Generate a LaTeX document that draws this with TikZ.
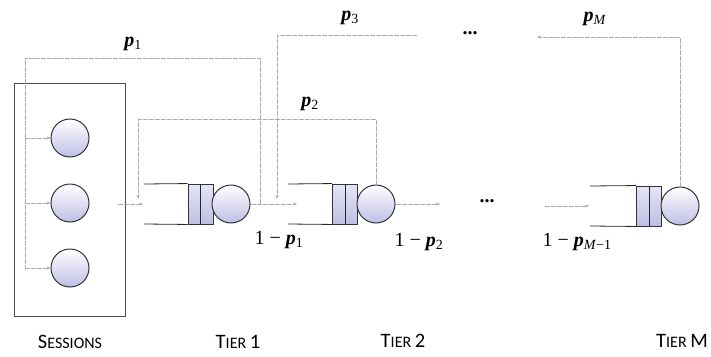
\documentclass[tikz,border=0pt]{standalone}
\usepackage{fontspec}
\setmainfont{Liberation Serif}
\newfontfamily\labfont{Carlito}
\newfontfamily\pfont{Liberation Serif Bold Italic}
\usetikzlibrary{arrows.meta}
\definecolor{lav}{RGB}{190,190,230}
\definecolor{fb}{RGB}{170,170,180}
\newcommand{\pvar}[1]{{\pfont p}\textsubscript{#1}}
\newcommand{\capl}[2]{{\labfont\fontsize{20.5}{20.5}\selectfont #1\fontsize{16}{16}\selectfont #2}}
\tikzset{
  x=1pt,y=-1pt,
  srv/.style={circle,draw=black!80,line width=1pt,minimum size=38pt,inner sep=0pt,top color=white,bottom color=lav},
  qbox/.style={rectangle,draw=black!80,line width=0.9pt,minimum width=25pt,minimum height=40pt,inner sep=0pt,top color=white!60!lav,bottom color=lav},
  qline/.style={draw=black!85,line width=0.8pt},
  fbline/.style={draw=fb,line width=0.5pt,dash pattern=on 5pt off 1pt},
  arr/.style={-{Stealth[length=4pt,width=3pt]}},
  plab/.style={font=\fontsize{20}{20}\selectfont,inner sep=0pt},
  tlab/.style={inner sep=0pt},
}
\begin{document}
\begin{tikzpicture}
\useasboundingbox (0,0) rectangle (711,356);
% sessions
\node[draw=black!70,line width=1pt,minimum width=111pt,minimum height=233pt,inner sep=0pt] (sess) at (69.5,199.5) {};
\node[srv] (s1) at (70,138) {};
\node[srv] (s2) at (70,203) {};
\node[srv] (s3) at (70,268) {};
% tier 1
\node[qbox] (q1) at (200.5,204) {};
\draw[qline] (q1.north) -- (q1.south);
\node[srv] (c1) at (231,204) {};
\draw[qline] (q1.north west) -- (144,184);
\draw[qline] (q1.south west) -- (144,224);
% tier 2
\node[qbox] (q2) at (345,204) {};
\draw[qline] (q2.north) -- (q2.south);
\node[srv] (c2) at (376,204) {};
\draw[qline] (q2.north west) -- (288,184);
\draw[qline] (q2.south west) -- (288,224);
% tier M
\node[qbox] (qM) at (649,206) {};
\draw[qline] (qM.north) -- (qM.south);
\node[srv] (cM) at (680,206) {};
\draw[qline] (qM.north west) -- (590,186);
\draw[qline] (qM.south west) -- (590,226);
% coordinates
\coordinate (j1) at (260,204);
\coordinate (t1in) at (143,204);
\coordinate (t2in) at (297,204);
\coordinate (t2out) at (440,204);
\coordinate (tMfrom) at (545,206);
\coordinate (tMin) at (589,206);
\coordinate (p1a) at (260,58);
\coordinate (p1b) at (25,58);
\coordinate (p1c) at (25,268);
\coordinate (p2a) at (376,119);
\coordinate (p2b) at (138,119);
\coordinate (p2c) at (138,199);
\coordinate (p3a) at (417,35);
\coordinate (p3b) at (277,35);
\coordinate (p3c) at (277,199);
\coordinate (pMa) at (680,37);
\coordinate (pMb) at (537,37);
% flows
\draw[fbline,arr] ([xshift=-8pt]sess.east |- t1in) -- (t1in);
\draw[fbline,arr] (c1.east) -- (t2in);
\draw[fbline,arr] (c2.east) -- (t2out);
\draw[fbline,arr] (tMfrom) -- (tMin);
% feedback p1
\draw[fbline] (j1) -- (p1a) -- (p1b) -- (p1c);
\draw[fbline,arr] (p1b |- s1) -- (s1.west);
\draw[fbline,arr] (p1b |- s2) -- (s2.west);
\draw[fbline,arr] (p1c) -- (s3.west);
% feedback p2
\draw[fbline,arr] (c2.north) -- (p2a) -- (p2b) -- (p2c);
% feedback p3
\draw[fbline,arr] (p3a) -- (p3b) -- (p3c);
% feedback pM
\draw[fbline,arr] (cM.north) -- (pMa) -- (pMb);
% labels
\node[plab] (lp1) at (133,44) {\pvar{1}};
\node[plab] (lp2) at (310,104) {\pvar{2}};
\node[plab] (lp3) at (350,18) {\pvar{3}};
\node[plab] (lpM) at (595,19) {\pvar{\textit{M}}};
\node[plab] (dtop) at (470,33) {\textbf{...}};
\node[plab] (dmid) at (487,201) {\textbf{...}};
\node[plab] (l1) at (279,240) {1 − \pvar{1}};
\node[plab] (l2) at (419,242) {1 − \pvar{2}};
\node[plab] (lM1) at (577,242) {1 − \pvar{\textit{M}−1}};
\node[tlab] (ls) at (70,342) {\capl{S}{ESSIONS}};
\node[tlab] (lt1) at (238,342) {\capl{T}{IER }\capl{1}{}};
\node[tlab] (lt2) at (403,341) {\capl{T}{IER }\capl{2}{}};
\node[tlab] (ltM) at (682,341) {\capl{T}{IER }\capl{M}{}};
\end{tikzpicture}
\end{document}
